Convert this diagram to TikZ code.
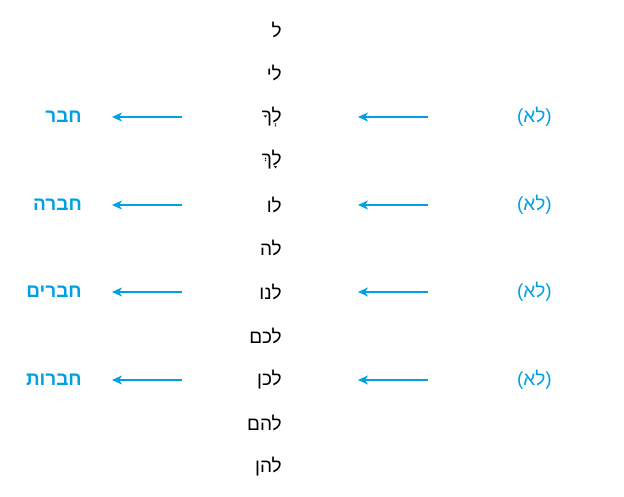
\documentclass[tikz,border=0pt]{standalone}
\usepackage{fontspec}
\setmainfont{Liberation Sans}
\newfontfamily\heb[Script=Hebrew]{Liberation Sans}
\TeXXeTstate=1
\usetikzlibrary{arrows.meta}
\definecolor{hblue}{RGB}{0,160,227}
\newcommand\bluew[1]{{\color{hblue}\bfseries #1}}
\begin{document}
\begin{tikzpicture}[x=1pt,y=-1pt,
  word/.style={anchor=east,inner sep=0pt,font=\fontsize{19}{21}\selectfont\heb},
  bw/.style={word,text=hblue,font=\fontsize{19}{21}\selectfont\heb\bfseries},
  arr/.style={hblue,line width=2.6pt,-{Stealth[length=10pt,width=9pt,inset=3pt]}}]
\useasboundingbox (0,0) rectangle (624,497);
\node[word] (c1) at (282,30) {\beginR ל\endR};
\node[word] (c2) at (282,73) {\beginR לי\endR};
\node[word] (c3) at (282,117) {\beginR לְךָ\endR};
\node[word] (c4) at (282,160) {\beginR לָךְ\endR};
\node[word] (c5) at (282,205) {\beginR לו\endR};
\node[word] (c6) at (282,248) {\beginR לה\endR};
\node[word] (c7) at (282,292) {\beginR לנו\endR};
\node[word] (c8) at (282,336) {\beginR לכם\endR};
\node[word] (c9) at (282,380) {\beginR לכן\endR};
\node[word] (c10) at (282,423) {\beginR להם\endR};
\node[word] (c11) at (282,467) {\beginR להן\endR};
\node[word] (r1) at (552,117) {\beginR (לא) \bluew{היה}\endR};
\node[word] (r2) at (552,205) {\beginR (לא) \bluew{הייתה}\endR};
\node[word] (r3) at (552,292) {\beginR (לא) \bluew{היו}\endR};
\node[word] (r4) at (552,380) {\beginR (לא) \bluew{היו}\endR};
\node[bw] (l1) at (82,117) {\beginR חבר\endR};
\node[bw] (l2) at (82,205) {\beginR חברה\endR};
\node[bw] (l3) at (82,292) {\beginR חברים\endR};
\node[bw] (l4) at (82,380) {\beginR חברות\endR};
\foreach \yy/\nn in {117/1,205/2,292/3,380/4}{
  \coordinate (ra\nn) at (428,\yy); \coordinate (rb\nn) at (358,\yy);
  \coordinate (la\nn) at (182,\yy); \coordinate (lb\nn) at (112,\yy);
  \draw[arr] (ra\nn) -- (rb\nn);
  \draw[arr] (la\nn) -- (lb\nn);
}
\end{tikzpicture}
\end{document}
